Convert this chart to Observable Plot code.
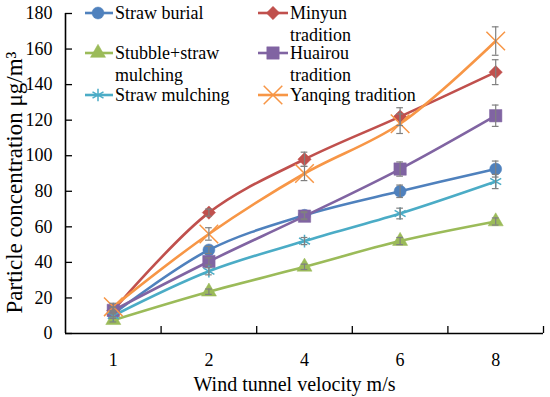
<!DOCTYPE html>
<html>
<head>
<meta charset="utf-8">
<script src="https://cdn.jsdelivr.net/npm/d3@7"></script>
<script src="https://cdn.jsdelivr.net/npm/@observablehq/plot@0.6"></script>
<style>
  body { margin: 0; background: #fff; }
  #chart { position: relative; width: 550px; height: 397px; }
</style>
</head>
<body>
<div id="chart"></div>
<script>
// ---- data ----
const velocities = ["1", "2", "4", "6", "8"];
const seriesNames = ["Straw burial", "Minyun tradition", "Stubble+straw mulching", "Huairou tradition", "Straw mulching", "Yanqing tradition"];
const strawBurial          = [11, 47, 66.5, 80, 92.5];
const minyunTradition      = [13, 68, 98, 122, 147];
const stubbleStrawMulching = [7.5, 23.5, 37.5, 52, 63];
const huairouTradition     = [13, 40.5, 66, 92.5, 122.5];
const strawMulching        = [10, 35, 52, 67.5, 85.5];
const yanqingTradition     = [15, 56, 90, 118, 164.5];
const strawBurialErr          = [1.5, 2, 2, 3.5, 4.5];
const minyunTraditionErr      = [2, 2, 4, 5, 7];
const stubbleStrawMulchingErr = [1, 1.5, 1.5, 2, 2];
const huairouTraditionErr     = [1.5, 2, 2, 4, 6];
const strawMulchingErr        = [1.5, 2, 2, 3, 4];
const yanqingTraditionErr     = [2, 3.5, 4, 5.5, 8];
const yTicks = [0, 20, 40, 60, 80, 100, 120, 140, 160, 180];
const xTitle = "Wind tunnel velocity m/s";
const yTitle = "Particle concentration μg/m³";

// ---- styles ----
const seriesValues = [strawBurial, minyunTradition, stubbleStrawMulching, huairouTradition, strawMulching, yanqingTradition];
const seriesErrs = [strawBurialErr, minyunTraditionErr, stubbleStrawMulchingErr, huairouTraditionErr, strawMulchingErr, yanqingTraditionErr];
const styles = [
  {color: "#4F81BD", symbol: "circle", r: 6, filled: true},
  {color: "#C0504D", symbol: "diamond2", r: 6, filled: true},
  {color: "#9BBB59", symbol: "triangle", r: 5.6, filled: true},
  {color: "#8064A2", symbol: "square", r: 7, filled: true},
  {color: "#4BACC6", symbol: "asterisk", r: 6, filled: false},
  {color: "#F79646", symbol: "times", r: 8.5, filled: false}
];

const rows = [];
seriesNames.forEach((name, k) => {
  seriesValues[k].forEach((v, i) => rows.push({series: name, k, i, v, e: seriesErrs[k][i]}));
});

const W = 550, H = 397;
const mL = 65, mR = 7, mT = 13, mB = 64;
const plotW = W - mL - mR, plotH = H - mT - mB;
const idx = velocities.map((_, i) => i);
const bounds = velocities.map((_, i) => i + 0.5);

const marks = [];
// axis ticks (inward)
marks.push(Plot.ruleY(yTicks, {y: d => d, insetRight: plotW - 7, stroke: "#000", strokeWidth: 1.3}));
marks.push(Plot.ruleX(bounds, {x: d => d, insetTop: plotH - 7, stroke: "#000", strokeWidth: 1.3}));
// axis lines
marks.push(Plot.ruleY([0], {stroke: "#000", strokeWidth: 1.6}));
marks.push(Plot.ruleX([-0.5], {stroke: "#000", strokeWidth: 1.6}));
// lines & markers
seriesNames.forEach((name, k) => {
  const st = styles[k];
  const data = rows.filter(d => d.k === k);
  marks.push(Plot.line(data, {x: "i", y: "v", stroke: st.color, strokeWidth: 2.6, curve: "catmull-rom"}));
});
seriesNames.forEach((name, k) => {
  const st = styles[k];
  const data = rows.filter(d => d.k === k);
  marks.push(Plot.dot(data, {
    x: "i", y: "v", symbol: st.symbol, r: st.r,
    fill: st.filled ? st.color : "none",
    stroke: st.color, strokeWidth: st.filled ? 0.5 : 1.5
  }));
});
// error bars
marks.push(Plot.ruleX(rows, {x: "i", y1: d => d.v - d.e, y2: d => d.v + d.e, stroke: "#808080", strokeWidth: 1.2}));
marks.push(Plot.ruleY(rows, {y: d => d.v + d.e, x1: d => d.i - 0.035, x2: d => d.i + 0.035, stroke: "#808080", strokeWidth: 1.2}));
marks.push(Plot.ruleY(rows, {y: d => d.v - d.e, x1: d => d.i - 0.035, x2: d => d.i + 0.035, stroke: "#808080", strokeWidth: 1.2}));
// axes
marks.push(Plot.axisY({ticks: yTicks, tickSize: 0, tickPadding: 13, label: null, fontSize: 18}));
marks.push(Plot.axisX({ticks: idx, tickFormat: i => velocities[i], tickSize: 0, tickPadding: 20, label: null, fontSize: 18}));
// titles
marks.push(Plot.text([xTitle], {frameAnchor: "bottom", lineAnchor: "middle", textAnchor: "middle", dy: 51, dx: -10, fontSize: 20, fill: "#000"}));
marks.push(Plot.text([yTitle], {frameAnchor: "left", lineAnchor: "middle", textAnchor: "middle", rotate: -90, dx: -51, dy: 9, fontSize: 23, fill: "#000"}));

const chart = Plot.plot({
  width: W, height: H,
  marginLeft: mL, marginRight: mR, marginTop: mT, marginBottom: mB,
  x: {type: "linear", domain: [-0.5, velocities.length - 0.5]},
  y: {domain: [0, 180]},
  style: {fontFamily: "'Liberation Serif', 'Times New Roman', serif", fontSize: "18px", color: "#000", background: "#fff", overflow: "visible"},
  marks
});
document.getElementById("chart").appendChild(chart);

// ---- legend (inside the plot area) ----
const legendLayout = [
  {k: 0, lx: 85, sx: 98, tx: 115, y: 13, lines: ["Straw burial"]},
  {k: 2, lx: 85, sx: 98, tx: 115, y: 53, lines: ["Stubble+straw", "mulching"]},
  {k: 4, lx: 85, sx: 98, tx: 115, y: 95, lines: ["Straw mulching"]},
  {k: 1, lx: 258, sx: 273, tx: 290, y: 13, lines: ["Minyun", "tradition"]},
  {k: 3, lx: 258, sx: 273, tx: 290, y: 53, lines: ["Huairou", "tradition"]},
  {k: 5, lx: 258, sx: 273, tx: 290, y: 95, lines: ["Yanqing tradition"]}
];
const symbolMap = {circle: d3.symbolCircle, diamond2: d3.symbolDiamond2, triangle: d3.symbolTriangle, square: d3.symbolSquare, asterisk: d3.symbolAsterisk, times: d3.symbolTimes};
const svg = d3.select(chart);
const lg = svg.append("g").attr("class", "legend").attr("text-anchor", "start");
legendLayout.forEach(item => {
  const st = styles[item.k];
  const g = lg.append("g");
  g.append("line").attr("x1", item.lx).attr("x2", item.tx - 2).attr("y1", item.y).attr("y2", item.y)
    .attr("stroke", st.color).attr("stroke-width", 2.6);
  g.append("path")
    .attr("d", d3.symbol(symbolMap[st.symbol], st.r * st.r * Math.PI)())
    .attr("transform", `translate(${item.sx},${item.y})`)
    .attr("fill", st.filled ? st.color : "none")
    .attr("stroke", st.color).attr("stroke-width", st.filled ? 0.5 : 1.5);
  const t = g.append("text").attr("x", item.tx).attr("y", item.y).attr("font-size", 18)
    .attr("fill", "#000").attr("text-anchor", "start");
  item.lines.forEach((ln, j) => {
    t.append("tspan").attr("x", item.tx).attr("dy", j === 0 ? "0.35em" : "1.2em").text(ln);
  });
});
</script>
</body>
</html>
